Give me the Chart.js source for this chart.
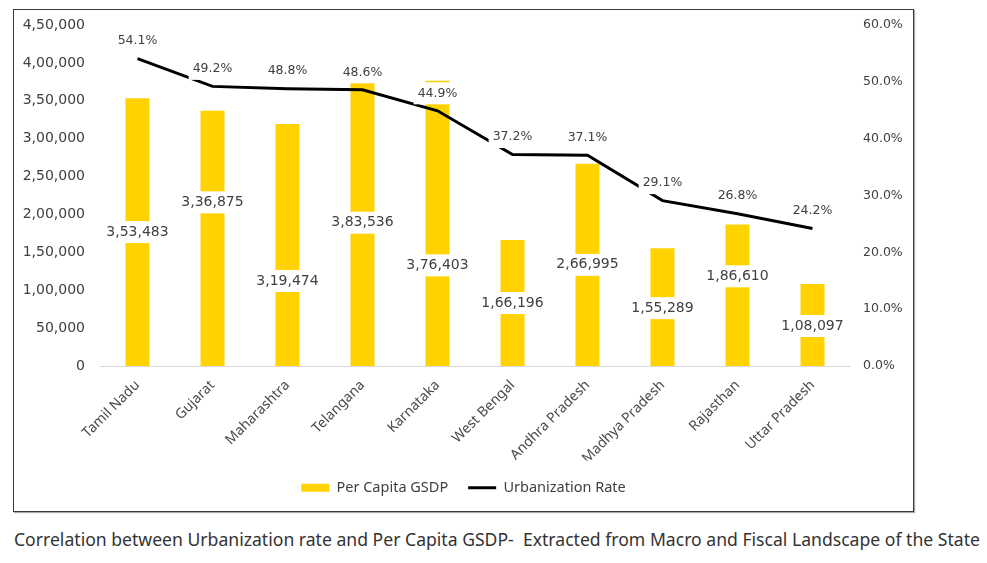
<!DOCTYPE html>
<html>
<head>
<meta charset="utf-8">
<script src="https://cdn.jsdelivr.net/npm/chart.js@4.4.0/dist/chart.umd.min.js"></script>
<style>
  html, body { margin: 0; padding: 0; background: #fff; }
  body { width: 987px; height: 563px; position: relative; overflow: hidden; }
  #box { position: absolute; left: 13px; top: 9px; width: 899px; height: 501px; border: 1px solid #3a3a3a; box-shadow: 1px 1px 1px #aaa; }
  #caption { position: absolute; left: 14px; top: 527px; font: 17.6px "Noto Sans", sans-serif; color: #333; white-space: pre; }
</style>
</head>
<body>
<div id="box"><canvas id="chart" width="899" height="501"></canvas></div>
<div id="caption">Correlation between Urbanization rate and Per Capita GSDP-  Extracted from Macro and Fiscal Landscape of the State</div>
<script>
const states = ['Tamil Nadu', 'Gujarat', 'Maharashtra', 'Telangana', 'Karnataka',
  'West Bengal', 'Andhra Pradesh', 'Madhya Pradesh', 'Rajasthan', 'Uttar Pradesh'];
const perCapitaGSDP = [353483, 336875, 319474, 383536, 376403, 166196, 266995, 155289, 186610, 108097];
const urbanizationRate = [54.1, 49.2, 48.8, 48.6, 44.9, 37.2, 37.1, 29.1, 26.8, 24.2];

// label nudges (px) from bar centre, as placed in the original
const barLabelShift = [0, -36, 36, 2, 42, 0, 0, 1, -19, 1];

const numFont = '"DejaVu Sans", Verdana, sans-serif';
const textFont = '"Noto Sans", sans-serif';
const gray = '#404040';

// Indian digit grouping, e.g. 4,50,000
function formatIN(n) {
  const s = Math.round(n).toString();
  if (s.length <= 3) return s;
  const last3 = s.slice(-3);
  const rest = s.slice(0, -3).replace(/\B(?=(\d{2})+(?!\d))/g, ',');
  return rest + ',' + last3;
}

function boxedText(ctx, text, x, y, font) {
  ctx.font = font;
  const w = ctx.measureText(text).width + 8;
  ctx.fillStyle = '#fff';
  ctx.fillRect(x - w / 2, y - 11, w, 22);
  ctx.fillStyle = gray;
  ctx.textAlign = 'center';
  ctx.textBaseline = 'middle';
  ctx.fillText(text, x, y);
}

const valueLabels = {
  id: 'valueLabels',
  afterDatasetsDraw(chart) {
    const ctx = chart.ctx;
    ctx.save();
    chart.getDatasetMeta(0).data.forEach((bar, i) => {
      const cy = (bar.y + bar.base) / 2 + barLabelShift[i];
      boxedText(ctx, formatIN(perCapitaGSDP[i]), bar.x, cy, '14px ' + numFont);
    });
    chart.getDatasetMeta(1).data.forEach((pt, i) => {
      boxedText(ctx, urbanizationRate[i].toFixed(1) + '%', pt.x, pt.y - 17.5, '12.5px ' + numFont);
    });
    ctx.restore();
  }
};

// fixed axis sizes so the plot area sits where the original's does
function fixWidth(w) {
  return s => { s.width = w; s.paddingTop = 0; s.paddingBottom = 0; };
}

new Chart(document.getElementById('chart'), {
  type: 'bar',
  data: {
    labels: states,
    datasets: [
      {
        label: 'Per Capita GSDP',
        data: perCapitaGSDP,
        backgroundColor: '#FFD200',
        borderWidth: 0,
        barPercentage: 0.32,
        categoryPercentage: 1,
        pointStyle: 'rect',
        yAxisID: 'y',
        order: 1
      },
      {
        type: 'line',
        label: 'Urbanization Rate',
        data: urbanizationRate,
        borderColor: '#000',
        backgroundColor: '#000',
        borderWidth: 3,
        pointRadius: 0,
        tension: 0,
        pointStyle: 'line',
        yAxisID: 'y1',
        order: 0
      }
    ]
  },
  options: {
    responsive: false,
    animation: false,
    layout: { padding: { top: 15, bottom: 6, left: 0, right: 0 } },
    plugins: {
      tooltip: { enabled: false },
      legend: {
        position: 'bottom',
        labels: {
          usePointStyle: true,
          pointStyleWidth: 28,
          boxHeight: 8,
          padding: 20,
          color: gray,
          font: { family: textFont, size: 14.5 },
          sort: (a, b) => a.datasetIndex - b.datasetIndex
        }
      }
    },
    scales: {
      x: {
        offset: true,
        grid: { display: false, drawTicks: false },
        border: { display: true, color: '#d9d9d9', width: 1 },
        ticks: {
          minRotation: 45,
          maxRotation: 45,
          padding: 11,
          color: '#4a4a4a',
          font: { family: textFont, size: 14 }
        },
        afterFit: s => { s.height = 94.5; }
      },
      y: {
        position: 'left',
        min: 0,
        max: 450000,
        grid: { display: false, drawTicks: false },
        border: { display: false },
        ticks: {
          stepSize: 50000,
          padding: 15,
          color: gray,
          font: { family: numFont, size: 14 },
          callback: v => formatIN(v)
        },
        afterFit: fixWidth(86)
      },
      y1: {
        position: 'right',
        min: 0,
        max: 60,
        grid: { display: false, drawTicks: false },
        border: { display: false },
        ticks: {
          stepSize: 10,
          padding: 13,
          color: gray,
          font: { family: numFont, size: 12.5 },
          callback: v => v.toFixed(1) + '%'
        },
        afterFit: fixWidth(63)
      }
    }
  },
  plugins: [valueLabels]
});
</script>
</body>
</html>
